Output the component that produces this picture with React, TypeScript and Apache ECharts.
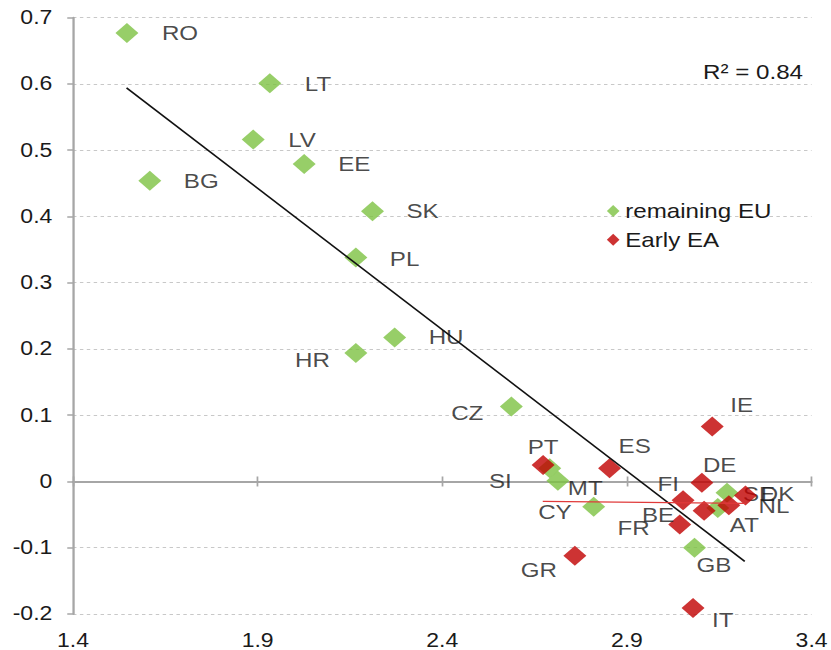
import React, { useEffect, useRef } from 'react';
import * as echarts from 'echarts';

// Chart canvas is laid out at 723px and widened to 831px on screen.
const CANVAS_W = 723;
const SX = 831 / CANVAS_W;

const FONT = '"Liberation Sans", Arial, Helvetica, sans-serif';
const GREEN = '#7dc242';
const RED = '#c00000';
const TEXT = '#1a1a1a';
const AXIS_GREY = '#a6a6a6';

// remaining EU member states
const euNames = ['RO', 'LT', 'LV', 'EE', 'BG', 'SK', 'PL', 'HU', 'HR', 'CZ', 'SI', 'MT', 'CY', 'GB', 'SE', 'DK'];
const euX = [1.546, 1.933, 1.888, 2.026, 1.608, 2.211, 2.166, 2.271, 2.166, 2.587, 2.691, 2.713, 2.81, 3.083, 3.171, 3.146];
const euY = [0.677, 0.601, 0.516, 0.479, 0.454, 0.408, 0.338, 0.2175, 0.194, 0.113, 0.02, 0.001, -0.038, -0.1, -0.017, -0.04];

// early euro-area members
const eaNames = ['IE', 'PT', 'ES', 'DE', 'FI', 'BE', 'FR', 'AT', 'NL', 'GR', 'IT'];
const eaX = [3.131, 2.673, 2.853, 3.103, 3.052, 3.109, 3.043, 3.176, 3.221, 2.759, 3.079];
const eaY = [0.083, 0.025, 0.02, -0.002, -0.0285, -0.044, -0.065, -0.036, -0.021, -0.112, -0.191];

// linear trend lines (end points)
const euTrend = [[1.545, 0.594], [3.219, -0.1205]];
const eaTrend = [[2.672, -0.03], [3.221, -0.033]];
const rSquaredLabel = 'R² = 0.84';

const xTicks = [1.4, 1.9, 2.4, 2.9, 3.4];
const legendNames = ['remaining EU', 'Early EA'];

// where each country code sits relative to its marker (screen px)
const labelPlacement: Record<string, [string, number, number]> = {
  RO: ['left', 35, 0], LT: ['left', 35, 1], LV: ['left', 35, 0], EE: ['left', 34, 0],
  BG: ['left', 34, 0], SK: ['left', 34, 0], PL: ['left', 34, 1], HU: ['left', 34, 0],
  HR: ['right', -26, 7], CZ: ['right', -28, 6], SI: ['right', -38, 13], MT: ['left', 10, 7],
  CY: ['right', -22, 5], GB: ['left', 2, 17], SE: ['left', 16, 1], DK: ['left', 43, -14],
  IE: ['left', 18, -21], PT: ['center', 0, -18], ES: ['left', 9, -22], DE: ['left', 1, -18],
  FI: ['right', -4, -16], BE: ['right', -30, 4], FR: ['right', -30, 3], AT: ['left', 1, 20],
  NL: ['left', 13, 11], GR: ['right', -18, 14], IT: ['left', 19, 12],
};

function points(names: string[], xs: number[], ys: number[]) {
  return names.map((name, i) => {
    const [align, dx, dy] = labelPlacement[name];
    return {
      name,
      value: [xs[i], ys[i]],
      label: { align, offset: [dx / SX, dy] },
    };
  });
}

const pointLabel = {
  show: true,
  formatter: '{b}',
  position: 'inside',
  verticalAlign: 'middle',
  fontSize: 21,
  fontFamily: FONT,
  color: TEXT,
};

const xBase = { type: 'value', min: 1.4, max: 3.4, splitLine: { show: false } };

const option: any = {
  animation: false,
  backgroundColor: '#ffffff',
  grid: { left: 73 / SX, right: CANVAS_W - 812 / SX, top: 17.7, bottom: 35.6, containLabel: false },
  xAxis: [
    {
      ...xBase,
      position: 'bottom',
      axisLine: { show: false, onZero: false },
      axisTick: { show: false },
      axisLabel: { show: true, customValues: xTicks, margin: 16, fontSize: 20, fontFamily: FONT, color: TEXT },
    },
    {
      ...xBase,
      axisLine: { show: true, onZero: true, onZeroAxisIndex: 0, lineStyle: { color: AXIS_GREY, width: 2 } },
      axisTick: { show: true, customValues: xTicks, length: 5, lineStyle: { color: AXIS_GREY, width: 1.5 } },
      axisLabel: { show: false },
    },
    {
      ...xBase,
      axisLine: { show: false, onZero: true, onZeroAxisIndex: 0 },
      axisTick: { show: true, inside: true, customValues: xTicks, length: 5, lineStyle: { color: AXIS_GREY, width: 1.5 } },
      axisLabel: { show: false },
    },
  ],
  yAxis: {
    type: 'value',
    min: -0.2,
    max: 0.7,
    interval: 0.1,
    axisLine: { show: true, onZero: false, lineStyle: { color: AXIS_GREY, width: 2 } },
    axisTick: { show: true, length: 5, lineStyle: { color: AXIS_GREY, width: 1.5 } },
    axisLabel: { margin: 18, fontSize: 20, fontFamily: FONT, color: TEXT },
    splitLine: { show: true, lineStyle: { color: '#c8c8c8', width: 1, type: [3, 3] } },
  },
  legend: {
    data: legendNames,
    orient: 'vertical',
    left: 528,
    top: 200,
    padding: 0,
    icon: 'diamond',
    itemWidth: 11,
    itemHeight: 12,
    itemGap: 6.8,
    textStyle: { fontSize: 21, lineHeight: 22, fontFamily: FONT, color: TEXT },
  },
  graphic: [
    {
      type: 'text',
      x: 803 / SX,
      y: 71.7,
      style: {
        text: rSquaredLabel,
        align: 'right',
        verticalAlign: 'middle',
        fontSize: 21,
        fontFamily: FONT,
        fill: TEXT,
      },
    },
  ],
  series: [
    {
      name: legendNames[0],
      type: 'scatter',
      symbol: 'diamond',
      symbolSize: [20, 20],
      itemStyle: { color: GREEN },
      label: pointLabel,
      data: points(euNames, euX, euY),
      z: 3,
    },
    {
      name: legendNames[1],
      type: 'scatter',
      symbol: 'diamond',
      symbolSize: [20, 20],
      itemStyle: { color: RED },
      label: pointLabel,
      data: points(eaNames, eaX, eaY),
      z: 4,
    },
    {
      type: 'line',
      data: euTrend,
      symbol: 'none',
      silent: true,
      lineStyle: { color: '#111111', width: 1.5 },
      z: 5,
    },
    {
      type: 'line',
      data: eaTrend,
      symbol: 'none',
      silent: true,
      lineStyle: { color: '#e03a3a', width: 1.3 },
      z: 5,
    },
  ],
};

export default function App() {
  const ref = useRef<HTMLDivElement>(null);
  useEffect(() => {
    const chart = echarts.init(ref.current!, null, { renderer: 'svg' });
    chart.setOption(option);
    return () => chart.dispose();
  }, []);
  return (
    <div
      style={{
        position: 'fixed',
        left: 0,
        top: 0,
        width: 831,
        height: 650,
        overflow: 'hidden',
        background: '#ffffff',
      }}
    >
      <div
        ref={ref}
        style={{ width: CANVAS_W, height: 650, transform: `scaleX(${SX})`, transformOrigin: '0 0' }}
      />
    </div>
  );
}
